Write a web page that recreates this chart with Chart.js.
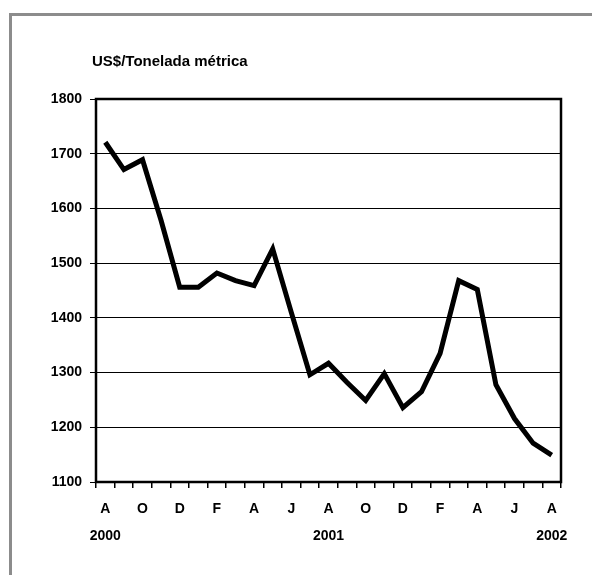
<!DOCTYPE html>
<html>
<head>
<meta charset="utf-8">
<script src="https://cdn.jsdelivr.net/npm/chart.js@4"></script>
<style>
  html, body { margin: 0; padding: 0; background: #fff; }
  #wrap { position: relative; width: 592px; height: 575px; }
  #frame { position: absolute; left: 9px; top: 13px; right: -5px; bottom: -5px;
           border-left: 3px solid #8c8c8c; border-top: 3px solid #8c8c8c; }
  canvas { position: absolute; left: 0; top: 0; }
</style>
</head>
<body>
<div id="wrap">
  <div id="frame"></div>
  <canvas id="chart-1" width="592" height="575"></canvas>
</div>
<script>
// monthly prices, Aug 2000 .. Aug 2002
var months = ["A", "S", "O", "N", "D", "J", "F", "M", "A", "M", "J", "J",
              "A", "S", "O", "N", "D", "J", "F", "M", "A", "M", "J", "J", "A"];
var years = ["2000", "", "", "", "", "", "", "", "", "", "", "",
             "2001", "", "", "", "", "", "", "", "", "", "", "", "2002"];
var prices = [1721, 1671, 1689, 1578, 1456, 1456, 1482, 1468, 1459, 1526,
              1410, 1296, 1317, 1282, 1249, 1298, 1236, 1265, 1335, 1468,
              1452, 1278, 1216, 1171, 1149];
var yTicks = [1100, 1200, 1300, 1400, 1500, 1600, 1700, 1800];

var fontFam = "'Liberation Sans', Arial, sans-serif";

var framePlugin = {
  id: "framePlugin",
  afterDraw: function (chart) {
    var c = chart.ctx, a = chart.chartArea;
    c.save();
    c.strokeStyle = "#000";
    c.lineWidth = 2.5;
    c.strokeRect(a.left, a.top, a.right - a.left, a.bottom - a.top);
    c.fillStyle = "#000";
    c.font = "bold 15px " + fontFam;
    c.textBaseline = "middle";
    c.fillText("US$/Tonelada métrica", a.left - 4, 62);
    c.restore();
  }
};

var ctx1 = document.getElementById("chart-1");
var lineChart = new Chart(ctx1, {
  type: "line",
  data: {
    labels: months,
    datasets: [{
      data: prices,
      borderColor: "#000",
      borderWidth: 5,
      borderJoinStyle: "miter",
      lineTension: 0,
      fill: false,
      pointRadius: 0,
    }],
  },
  options: {
    responsive: false,
    animation: false,
    layout: { padding: { left: 0, right: 31, top: 99, bottom: 20 } },
    plugins: { legend: { display: false }, tooltip: { enabled: false } },
    scales: {
      x: {
        offset: true,
        grid: { offset: true, drawOnChartArea: false, color: "#000", lineWidth: 1.5, tickLength: 6 },
        border: { display: false },
        afterFit: function (s) { s.height = 73; },
        ticks: {
          autoSkip: false,
          maxRotation: 0,
          padding: 8,
          color: "#000",
          font: { family: fontFam, weight: "bold", size: 14, lineHeight: 1.9 },
          callback: function (v, i) {
            return i % 2 === 0 ? [months[i], years[i]] : "";
          },
        },
      },
      y: {
        min: 1100,
        max: 1800,
        afterFit: function (s) { s.width = 96; },
        afterBuildTicks: function (s) { s.ticks = yTicks.map(function (v) { return { value: v }; }); },
        grid: { color: "#000", lineWidth: 1, tickLength: 6 },
        border: { display: false },
        ticks: {
          padding: 8,
          color: "#000",
          font: { family: fontFam, weight: "bold", size: 14 },
          callback: function (v) { return String(v); },
        },
      },
    },
  },
  plugins: [framePlugin],
});
</script>
</body>
</html>
